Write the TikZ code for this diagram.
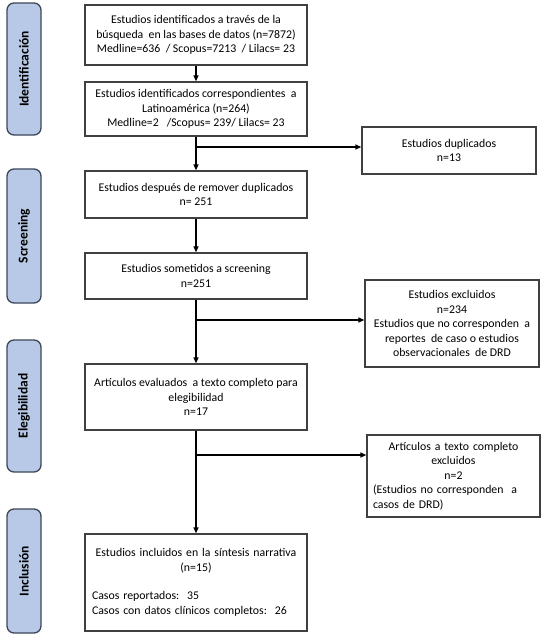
\documentclass[tikz,border=0pt]{standalone}
\usepackage{fontspec}
\setmainfont{Carlito}
\usetikzlibrary{arrows.meta}
\tikzset{>={Triangle[width=5pt,length=6pt]}}
\definecolor{phasefill}{HTML}{B7C9E6}
\definecolor{phasedraw}{HTML}{3E4757}
\definecolor{boxdraw}{HTML}{404040}

\begin{document}
\begin{tikzpicture}[
    x = 1pt, y = -1pt,
    box/.style = {draw=boxdraw, line width=1.3pt, inner sep=0pt,
        align=center, font=\fontsize{11.8}{14.5}\selectfont},
    phase/.style = {draw=phasedraw, fill=phasefill, line width=1.3pt,
        rounded corners=7pt, rotate=90, minimum height=34,
        font=\bfseries\fontsize{13.5}{14}\selectfont},
    line/.style = {line width=1.3pt, ->}
  ]
  \useasboundingbox (0,0) rectangle (544,643);

  \foreach \name/\top/\bot [count=\j] in {Identificación/3/135,Screening/169/303,Elegibilidad/340/472,Inclusión/509/633}
  \node[phase, minimum width={\bot-\top}] (P\j) at (24,{(\top+\bot)/2}) {\name};

  \node[box, minimum width=222, minimum height=60] (ID) at (196,35)
    {Estudios identificados a través de la\\búsqueda\ \ en las bases de datos (n=7872)\\Medline=636\ \ / Scopus=7213\ \ / Lilacs= 23};
  \node[box, minimum width=222, minimum height=54] (LAT) at (196,109)
    {Estudios identificados correspondientes\ \ a\\Latinoamérica (n=264)\\Medline=2\ \ \ /Scopus= 239/ Lilacs= 23};
  \node[box, minimum width=174, minimum height=47] (DUP) at (449,150.5)
    {Estudios duplicados\\n=13};
  \node[box, minimum width=222, minimum height=47] (REM) at (196,194.5)
    {Estudios después de remover duplicados\\n= 251};
  \node[box, minimum width=222, minimum height=46] (SCR) at (196,276)
    {Estudios sometidos a screening\\n=251};
  \node[box, minimum width=174, minimum height=87] (EXC) at (452,323.5)
    {Estudios excluidos\\n=234\\Estudios que no corresponden\ \ a\\reportes\ \ de caso o estudios\\observacionales\ \ de DRD};
  \node[box, minimum width=222, minimum height=66] (ELE) at (196,397)
    {Artículos evaluados\ \ a texto completo para\\elegibilidad\\n=17};
  \node[box, minimum width=173, minimum height=82, text width=161] (ART) at (453.5,476)
    {Artículos a texto completo\\excluidos\\n=2\par
     \begin{minipage}[t]{\linewidth}\raggedright (Estudios no corresponden\ \ a\\casos de DRD)\end{minipage}};
  \node[box, minimum width=222, minimum height=97, text width=208] (INC) at (196,582.5)
    {Estudios incluidos en la síntesis narrativa\\(n=15)\par\vspace{14pt}
     \begin{minipage}[t]{\linewidth}\raggedright Casos reportados:\ \ 35\\Casos con datos clínicos completos:\ \ 26\end{minipage}};

  \coordinate (S1) at (196,147);
  \coordinate (S2) at (196,320);
  \coordinate (S3) at (196,455);

  \draw[line] (ID) -- (LAT);
  \draw[line] (LAT) -- (REM);
  \draw[line] (S1) -- (S1 -| DUP.west);
  \draw[line] (REM) -- (SCR);
  \draw[line] (SCR) -- (ELE);
  \draw[line] (S2) -- (S2 -| EXC.west);
  \draw[line] (ELE) -- (INC);
  \draw[line] (S3) -- (S3 -| ART.west);
\end{tikzpicture}
\end{document}
